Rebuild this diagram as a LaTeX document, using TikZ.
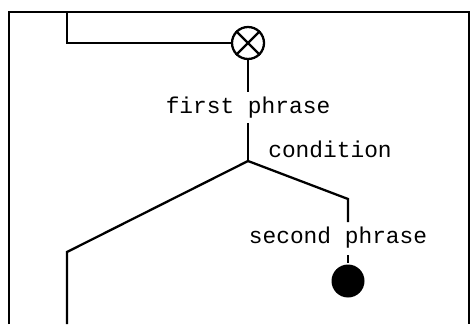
\documentclass[tikz,border=0pt]{standalone}
\usepackage{fontspec}
\setmonofont{Liberation Mono}
\begin{document}
\begin{tikzpicture}[x=0.02cm, y=-0.02cm, line width=1.3pt,
    phrase/.style={font=\ttfamily\fontsize{13}{15}\selectfont, inner sep=0pt, anchor=base}]
    \useasboundingbox (0,0) rectangle (472,324);

    % Frame (open at the bottom)
    \draw[line width=1.6pt] (9,324) -- (9,12) -- (469,12) -- (469,324);

    % Junction with the loop back
    \node[draw, circle, minimum size=0.64cm, inner sep=0pt] (junction) at (248,43) {};
    \draw (junction.45) -- (junction.225);
    \draw (junction.135) -- (junction.315);
    \coordinate (loopin) at (67,12);
    \draw (loopin) |- (junction.west);

    % First phrase
    \node[phrase] (first) at (248,113) {first phrase};
    \coordinate (firsttop) at (248,92);
    \coordinate (firstbot) at (248,123);
    \coordinate (fork) at (248,161);
    \draw (junction.south) -- (firsttop);
    \draw (firstbot) -- (fork);
    \node[phrase] (condition) at (330,157) {condition};

    % Branch back (condition false)
    \coordinate (bendleft) at (67,252);
    \coordinate (loopout) at (67,324);
    \draw (fork) -- (bendleft) -- (loopout);

    % Branch on (condition true)
    \coordinate (bendright) at (348,199);
    \coordinate (secondtop) at (348,222);
    \draw (fork) -- (bendright) -- (secondtop);
    \node[phrase] (second) at (338,243) {second phrase};
    \coordinate (secondbot) at (348,255);
    \node[circle, fill, minimum size=0.66cm, inner sep=0pt] (stop) at (348,281) {};
    \draw (secondbot) -- (stop.north);
\end{tikzpicture}
\end{document}
